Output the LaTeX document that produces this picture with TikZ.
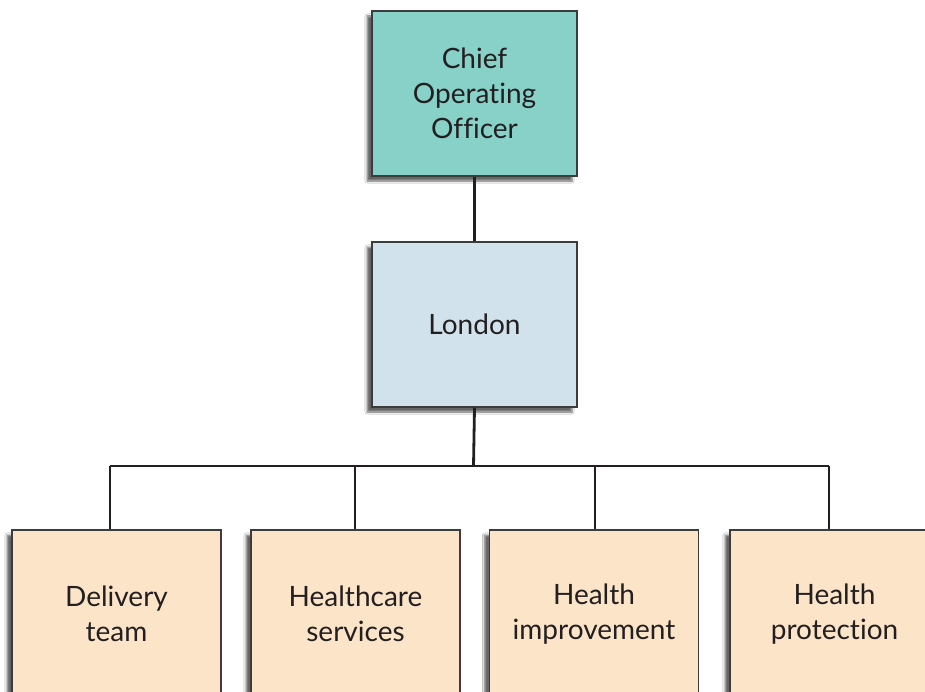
\documentclass[tikz,border=0pt]{standalone}
\usepackage{fontspec}
\setmainfont[Ligatures=NoCommon]{Lato}
\usetikzlibrary{shadows.blur}
\definecolor{cooFill}{RGB}{135,209,200}
\definecolor{lonFill}{RGB}{210,226,236}
\definecolor{unitFill}{RGB}{252,228,201}
\definecolor{ink}{RGB}{35,31,32}
\definecolor{edge}{RGB}{60,60,60}
\newcommand{\nolig}{\kern0pt}
\tikzset{
  orgbox/.style={rectangle, draw=edge, line width=1.3pt, minimum width=205pt, minimum height=165pt,
    align=center, text=ink, font=\fontsize{28}{35}\selectfont,
    blur shadow={shadow xshift=-5pt, shadow yshift=-5pt, shadow blur steps=6, shadow opacity=60}},
  unitbox/.style={orgbox, fill=unitFill, minimum width=209pt, minimum height=168pt},
  link/.style={draw=ink, line width=2.8pt}
}
\begin{document}
\begin{tikzpicture}[x=1pt,y=-1pt]
\useasboundingbox (0,0) rectangle (925,692);
\fill[white] (0,0) rectangle (925,692);
\clip (0,0) rectangle (925,692);
\node[orgbox, fill=cooFill] (coo) at (474.5,93.5) {Chief\\Operat\nolig ing\\Officer};
\node[orgbox, fill=lonFill] (london) at (474.5,324.5) {London};
\node[unitbox] (d1) at (116.5,614) {Delivery\\team};
\node[unitbox] (d2) at (355.5,614) {Healthcare\\services};
\node[unitbox] (d3) at (594,614) {Health\\improvement};
\node[unitbox] (d4) at (834.5,614) {Health\\protect\nolig ion};
\coordinate (j0) at (473.5,466);
\coordinate (j1) at (110,466);
\coordinate (j2) at (355,466);
\coordinate (j3) at (595,466);
\coordinate (j4) at (829,466);
\draw[link] (coo.south) -- (london.north);
\draw[link] (london.south) -- (j0);
\draw[link] (j1) -- (j4);
\draw[link] (j1) -- (j1 |- d1.north);
\draw[link] (j2) -- (j2 |- d2.north);
\draw[link] (j3) -- (j3 |- d3.north);
\draw[link] (j4) -- (j4 |- d4.north);
\end{tikzpicture}
\end{document}
